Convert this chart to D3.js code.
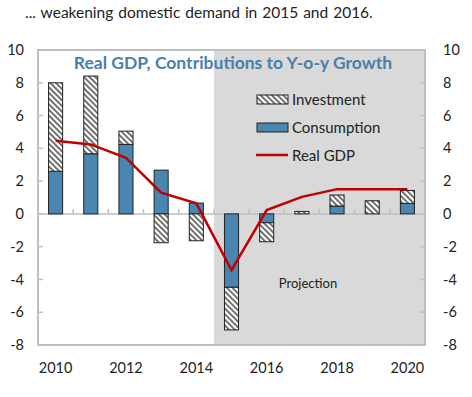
<!DOCTYPE html>
<html><head><meta charset="utf-8">
<script src="https://cdn.jsdelivr.net/npm/d3@7"></script>
<style>body{margin:0;background:#fff;} svg{display:block;font-family:Lato, "Open Sans", sans-serif;}</style>
</head><body>
<script>
const years = [2010,2011,2012,2013,2014,2015,2016,2017,2018,2019,2020];
const consumption = [2.6, 3.67, 4.24, 2.67, 0.66, -4.48, -0.54, 0, 0.48, 0, 0.64];
const investment  = [5.4, 4.74, 0.81, -1.76, -1.64, -2.6, -1.16, 0.15, 0.67, 0.8, 0.79];
const realGDP     = [4.46, 4.24, 3.42, 1.29, 0.64, -3.43, 0.23, 1.04, 1.51, 1.51, 1.51];
const yTicks = [-8,-6,-4,-2,0,2,4,6,8,10];
const xLabels = [2010,2012,2014,2016,2018,2020];
const projectionStart = 2015;

const W=472,H=397;
const svg=d3.select("body").append("svg").attr("width",W).attr("height",H);
const defs=svg.append("defs");
const pat=defs.append("pattern").attr("id","hatch").attr("patternUnits","userSpaceOnUse")
  .attr("width",4).attr("height",4).attr("patternTransform","rotate(-45)");
pat.append("rect").attr("width",4).attr("height",4).attr("fill","#fff");
pat.append("rect").attr("x",0).attr("width",1.7).attr("height",4).attr("fill","#5a5a5a");

const L=38,R=425,T=50,B=345;
const x=d3.scaleBand().domain(years).range([L,R]).paddingInner(0.6).paddingOuter(0.3);
const xb=d3.scaleBand().domain(years).range([L,R]);
const y=d3.scaleLinear().domain([-8,10]).range([B,T]);

svg.append("text").attr("x",25).attr("y",18).attr("font-size",15.5).attr("fill","#222").attr("word-spacing",1)
  .text("... weakening domestic demand in 2015 and 2016.");

// projection shade
svg.append("rect").attr("x",xb(projectionStart)).attr("y",T).attr("width",R-xb(projectionStart)).attr("height",B-T).attr("fill","#d9d9d9");

// frame
svg.append("rect").attr("x",L).attr("y",T).attr("width",R-L).attr("height",B-T).attr("fill","none").attr("stroke","#bfbfbf").attr("stroke-width",2);

// y ticks inside
const gy=svg.append("g");
yTicks.forEach(t=>{
  gy.append("line").attr("x1",L).attr("x2",L+5).attr("y1",y(t)).attr("y2",y(t)).attr("stroke","#bfbfbf").attr("stroke-width",1.5);
  gy.append("line").attr("x1",R-5).attr("x2",R).attr("y1",y(t)).attr("y2",y(t)).attr("stroke","#bfbfbf").attr("stroke-width",1.5);
  gy.append("text").attr("x",24).attr("y",y(t)).attr("dy","0.35em").attr("text-anchor","end").attr("font-size",14.5).attr("fill","#222").text(t);
  gy.append("text").attr("x",443).attr("y",y(t)).attr("dy","0.35em").attr("text-anchor","start").attr("font-size",14.5).attr("fill","#222").text(t);
});

// zero line and category ticks
svg.append("line").attr("x1",L).attr("x2",R).attr("y1",y(0)).attr("y2",y(0)).attr("stroke","#bfbfbf").attr("stroke-width",1.5);
years.slice(1).forEach(yr=>{
  svg.append("line").attr("x1",xb(yr)).attr("x2",xb(yr)).attr("y1",y(0)).attr("y2",y(0)-5).attr("stroke","#bfbfbf").attr("stroke-width",1.5);
});

// bars
const g=svg.append("g");
years.forEach((yr,i)=>{
  const c=consumption[i], v=investment[i];
  let c0=0,c1=c;
  let i0 = (v>=0) ? Math.max(c,0) : Math.min(c,0);
  let i1 = i0+v;
  if(c!==0) g.append("rect").attr("x",x(yr)).attr("width",x.bandwidth()).attr("y",y(Math.max(c0,c1))).attr("height",Math.abs(y(c0)-y(c1)))
    .attr("fill","#4a87b0").attr("stroke","#222").attr("stroke-width",1);
  if(v!==0) g.append("rect").attr("x",x(yr)).attr("width",x.bandwidth()).attr("y",y(Math.max(i0,i1))).attr("height",Math.abs(y(i0)-y(i1)))
    .attr("fill","url(#hatch)").attr("stroke","#222").attr("stroke-width",1);
});

// line
const line=d3.line().x((d,i)=>x(years[i])+x.bandwidth()/2).y(d=>y(d));
svg.append("path").datum(realGDP).attr("d",line).attr("fill","none").attr("stroke","#c00000").attr("stroke-width",2.5);

// x labels
xLabels.forEach(yr=>{
  svg.append("text").attr("x",x(yr)+x.bandwidth()/2).attr("y",373).attr("text-anchor","middle").attr("font-size",14.5).attr("fill","#222").text(yr);
});

// title
svg.append("text").attr("x",233).attr("y",69).attr("text-anchor","middle").attr("font-size",17.5).attr("font-weight","bold").attr("fill","#4a7eab")
  .text("Real GDP, Contributions to Y-o-y Growth");

// legend
const lg=svg.append("g");
lg.append("rect").attr("x",257).attr("y",95).attr("width",31).attr("height",9).attr("fill","url(#hatch)").attr("stroke","#222");
lg.append("text").attr("x",292).attr("y",100).attr("dy","0.35em").attr("font-size",15).attr("fill","#222").text("Investment");
lg.append("rect").attr("x",257).attr("y",123).attr("width",31).attr("height",9).attr("fill","#4a87b0").attr("stroke","#222");
lg.append("text").attr("x",292).attr("y",128).attr("dy","0.35em").attr("font-size",15).attr("fill","#222").text("Consumption");
lg.append("line").attr("x1",256).attr("x2",288).attr("y1",155).attr("y2",155).attr("stroke","#c00000").attr("stroke-width",2.5);
lg.append("text").attr("x",292).attr("y",156).attr("dy","0.35em").attr("font-size",15).attr("fill","#222").text("Real GDP");

svg.append("text").attr("x",308).attr("y",283).attr("dy","0.35em").attr("text-anchor","middle").attr("font-size",13).attr("fill","#222").text("Projection");
</script>
</body></html>
